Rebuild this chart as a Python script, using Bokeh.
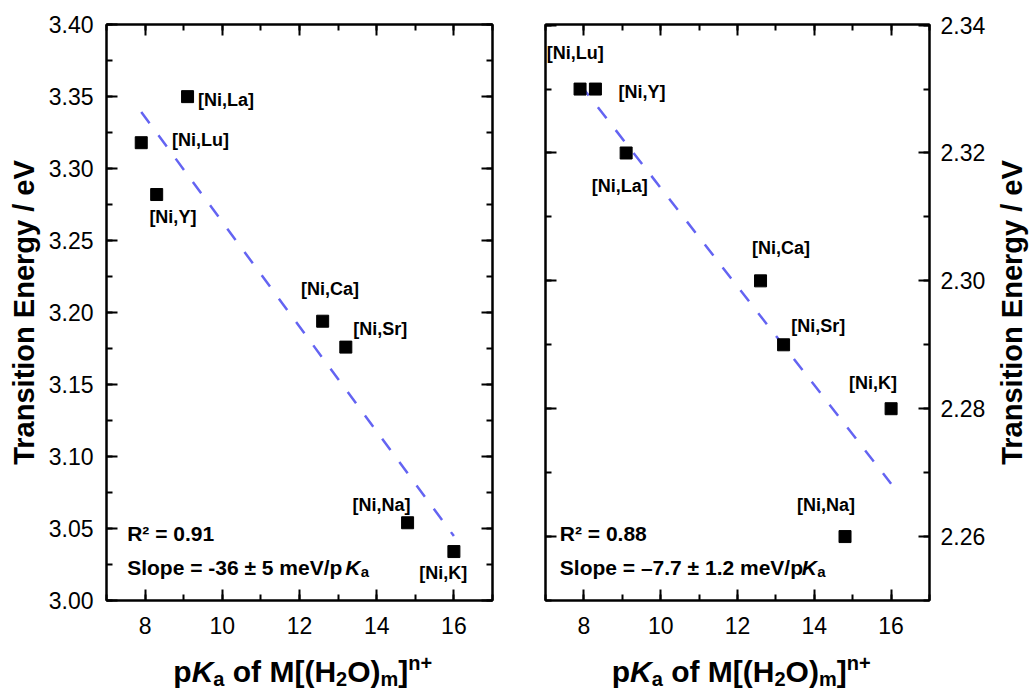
import numpy as np
from bokeh.plotting import figure
from bokeh.layouts import row, column
from bokeh.models import (ColumnDataSource, Range1d, LinearAxis, SingleIntervalTicker,
                          NumeralTickFormatter, BasicTickFormatter, Label, Div, FixedTicker)
from bokeh.embed import file_html
from bokeh.resources import INLINE
from bokeh.core.properties import value

# ---------------- data ----------------
complexes = ["[Ni,Lu]", "[Ni,Y]", "[Ni,La]", "[Ni,Ca]", "[Ni,Sr]", "[Ni,Na]", "[Ni,K]"]
pka = [7.9, 8.3, 9.1, 12.6, 13.2, 14.8, 16.0]
energy_left = [3.318, 3.282, 3.350, 3.194, 3.176, 3.054, 3.034]
energy_right = [2.330, 2.330, 2.320, 2.300, 2.290, 2.260, 2.280]

x_limits = (7, 17)
y_limits_left = (3.00, 3.4001)
y_limits_right = (2.25, 2.3401)
x_tick_step = 2
y_tick_step_left = 0.05
y_tick_step_right = 0.02

r2_left = "R\u00b2 = 0.91"
r2_right = "R\u00b2 = 0.88"
slope_left = "Slope = -36 \u00b1 5 meV/p"
slope_right = "Slope = \u20137.7 \u00b1 1.2 meV/p"
y_title = "Transition Energy / eV"

# ---------------- style / layout constants ----------------
FONT = "Liberation Sans"
left_dx = [30.7, -7.3, 10.4, -21.7, 7.4, -55.0, -34.6]
left_dy = [-2.3, 22.4, 3.3, -32.7, -18.4, -17.7, 21.7]
right_dx = [-33.3, 23.0, -34.4, -8.6, 7.7, -48.0, -42.0]
right_dy = [-36.0, 3.4, 33.3, -32.4, -18.5, -31.7, -25.6]

FIT_COLOR = "#6464f2"
FIG_H = 648


def styled_axis(ticker, formatter, labels, standoff):
    ax = LinearAxis(ticker=ticker, formatter=formatter)
    ax.axis_line_width = 2
    ax.axis_line_color = "black"
    ax.major_tick_in = 11
    ax.major_tick_out = 0
    ax.minor_tick_in = 6
    ax.minor_tick_out = 0
    ax.major_tick_line_width = 2
    ax.minor_tick_line_width = 2
    ax.major_tick_line_color = "black"
    ax.minor_tick_line_color = "black"
    ax.major_label_text_font = FONT
    ax.major_label_text_font_size = "23px"
    if labels:
        ax.major_label_text_color = "black"
        ax.major_label_standoff = standoff
    else:
        ax.major_label_text_color = None
        ax.major_label_standoff = 0
    return ax


def style_title(ax, standoff):
    ax.axis_label = y_title
    ax.axis_label_text_font = FONT
    ax.axis_label_text_font_style = "bold"
    ax.axis_label_text_font_size = "29px"
    ax.axis_label_text_color = "black"
    ax.axis_label_standoff = standoff


def add_label(p, x, y, text, size, style="bold"):
    p.add_layout(Label(x=x, y=y, x_units="screen", y_units="screen", text=text,
                       text_font=FONT, text_font_style=style, text_font_size=size,
                       text_color="black", text_align="left", text_baseline="alphabetic"))


def x_title_div(width, margin_left):
    sub = 'font-size:20px; position:relative; top:4px;'
    sup = 'font-size:20px; position:relative; top:-12px;'
    html = ('<div style="margin-left:%.1fpx; padding-top:9px; font-family:\'%s\'; '
            'font-size:30px; font-weight:bold; line-height:30px; white-space:nowrap; color:black;">'
            'p<i>K</i><span style="%s">a</span> of M[(H<span style="%s">2</span>O)'
            '<span style="%s">m</span>]<span style="%s">n+</span></div>'
            % (margin_left, FONT, sub, sub, sub, sup))
    return Div(text=html, width=width, height=690 - FIG_H, margin=0)


def make_panel(energy, ylim, ystep, dx, dy, right_side, r2, slope, r2_x, k_off,
               width, bl, br):
    p = figure(width=width, height=FIG_H, x_range=Range1d(*x_limits), y_range=Range1d(*ylim),
               output_backend="svg", toolbar_location=None,
               x_axis_location=None, y_axis_location=None,
               min_border_left=bl, min_border_right=br, min_border_top=24,
               min_border_bottom=FIG_H - 600)
    p.xgrid.visible = False
    p.ygrid.visible = False
    p.outline_line_color = "black"
    p.outline_line_width = 2
    p.background_fill_color = "white"
    p.border_fill_color = "white"

    p.add_layout(styled_axis(SingleIntervalTicker(interval=x_tick_step, num_minor_ticks=2),
                             BasicTickFormatter(), True, 16), "below")
    p.add_layout(styled_axis(SingleIntervalTicker(interval=x_tick_step, num_minor_ticks=2),
                             BasicTickFormatter(), False, 0), "above")
    yl = styled_axis(SingleIntervalTicker(interval=ystep, num_minor_ticks=2),
                     NumeralTickFormatter(format="0.00"), not right_side, 13)
    yr = styled_axis(SingleIntervalTicker(interval=ystep, num_minor_ticks=2),
                     NumeralTickFormatter(format="0.00"), right_side, 11)
    if not right_side:
        style_title(yl, 6)
    p.add_layout(yl, "left")
    p.add_layout(yr, "right")

    # linear fit from the data
    coef = np.polyfit(pka, energy, 1)
    xs = [min(pka), max(pka)]
    ys = list(np.polyval(coef, xs))
    p.line(xs, ys, line_color=FIT_COLOR, line_width=2.5, line_dash="14 15")

    src = ColumnDataSource(dict(x=pka, y=energy, label=complexes, dx=dx, dy=dy))
    p.scatter("x", "y", source=src, marker="square", size=12,
              fill_color="black", line_color="black")
    p.text("x", "y", text="label", x_offset="dx", y_offset="dy", source=src,
           text_font=value(FONT), text_font_style="bold", text_font_size="18px",
           text_align="left", text_baseline="middle", text_color="black")

    # statistics
    add_label(p, r2_x, 67.0, r2, "21px")
    add_label(p, r2_x, 33.0, slope, "21px")
    add_label(p, r2_x + k_off, 33.0, "K", "21px", style="bold italic")
    add_label(p, r2_x + k_off + 15.5, 29.0, "a", "15px")
    return p


p1 = make_panel(energy_left, y_limits_left, y_tick_step_left, left_dx, left_dy, False,
                r2_left, slope_left, 20.7, 218.0, 518, 106, 26)
p2 = make_panel(energy_right, y_limits_right, y_tick_step_right, right_dx, right_dy, True,
                r2_right, slope_right, 14.3, 242.0, 470, 27, 58)

# narrow strip carrying the right-hand y title (reads bottom to top like the left one)
p3 = figure(width=43, height=FIG_H, x_range=Range1d(0, 1), y_range=Range1d(0, 1),
            output_backend="svg", toolbar_location=None,
            x_axis_location=None, y_axis_location=None,
            min_border_left=41, min_border_right=1, min_border_top=24,
            min_border_bottom=FIG_H - 600)
p3.xgrid.visible = False
p3.ygrid.visible = False
p3.outline_line_color = None
p3.border_fill_color = "white"
p3.background_fill_color = "white"
t_ax = LinearAxis(ticker=FixedTicker(ticks=[]))
t_ax.axis_line_color = None
t_ax.major_tick_line_color = None
t_ax.minor_tick_line_color = None
t_ax.major_label_text_color = None
t_ax.major_tick_in = 0
t_ax.major_tick_out = 0
t_ax.minor_tick_in = 0
t_ax.minor_tick_out = 0
t_ax.major_label_standoff = 0
style_title(t_ax, 2)
p3.add_layout(t_ax, "left")
p3.scatter([0.5], [0.5], size=0, alpha=0)

d1 = x_title_div(518, 173.3)
d2 = x_title_div(470, 93.7)

layout = row(column(p1, d1), column(p2, d2), p3)
open("out.html", "w").write(file_html(layout, INLINE))
